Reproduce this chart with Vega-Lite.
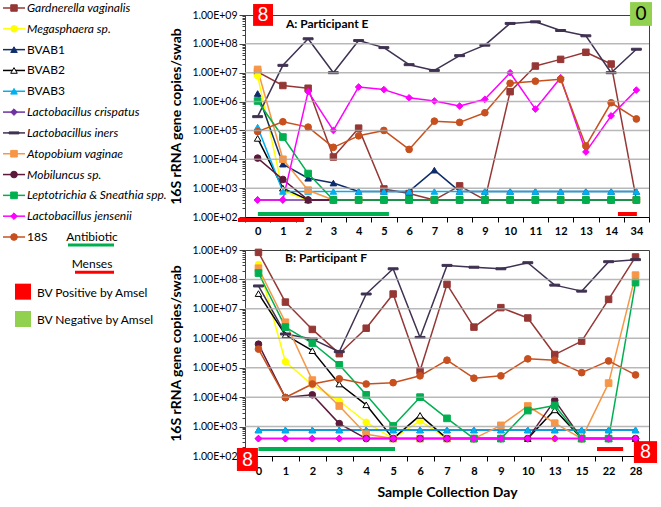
{
  "$schema": "https://vega.github.io/schema/vega-lite/v6.json",
  "background": "white",
  "padding": {"left": 0, "top": 1, "right": 0, "bottom": 0},
  "config": {
    "font": "Lato",
    "view": {"stroke": null},
    "axis": {"labelFont": "Lato", "titleFont": "Lato", "labelColor": "#000000", "titleColor": "#000000"},
    "text": {"font": "Lato"}
  },
  "datasets": {
    "gridA": [{"v": 1000, "u1": -0.5, "u2": 15.5}, {"v": 10000, "u1": -0.5, "u2": 15.5}, {"v": 100000, "u1": -0.5, "u2": 15.5}, {"v": 1000000, "u1": -0.5, "u2": 15.5}, {"v": 10000000, "u1": -0.5, "u2": 15.5}, {"v": 100000000, "u1": -0.5, "u2": 15.5}],
    "gridB": [{"v": 1000, "u1": -0.5, "u2": 14.5}, {"v": 10000, "u1": -0.5, "u2": 14.5}, {"v": 100000, "u1": -0.5, "u2": 14.5}, {"v": 1000000, "u1": -0.5, "u2": 14.5}, {"v": 10000000, "u1": -0.5, "u2": 14.5}, {"v": 100000000, "u1": -0.5, "u2": 14.5}],
    "legend": [
      {"s": "Gvag", "label": "Gardnerella vaginalis"},
      {"s": "Mega", "label": "Megasphaera sp."},
      {"s": "BVAB1", "label": "BVAB1"},
      {"s": "BVAB2", "label": "BVAB2"},
      {"s": "BVAB3", "label": "BVAB3"},
      {"s": "Lcri", "label": "Lactobacillus crispatus"},
      {"s": "Liners", "label": "Lactobacillus iners"},
      {"s": "Avag", "label": "Atopobium vaginae"},
      {"s": "Mobi", "label": "Mobiluncus sp."},
      {"s": "Lept", "label": "Leptotrichia & Sneathia spp."},
      {"s": "Ljen", "label": "Lactobacillus jensenii"},
      {"s": "18S", "label": "18S"}
    ],
    "legendExtra": [
      {"k": "Antibiotic"},
      {"k": "Menses"},
      {"k": "BV Positive by Amsel"},
      {"k": "BV Negative by Amsel"}
    ],
    "A": [
      {"day": "0", "Gvag": 1.07e7, "Mega": 7.8e6, "BVAB1": 1.9e6, "BVAB2": 5.3e4, "BVAB3": 1.3e5, "Lcri": 390, "Liners": 3e5, "Avag": 1.3e7, "Mobi": 1.1e4, "Lept": 1.05e6, "Ljen": 390, "18S": 9.1e4},
      {"day": "1", "Gvag": 3.6e6, "Mega": 800, "BVAB1": 6.8e3, "BVAB2": 1000, "BVAB3": 770, "Lcri": 390, "Liners": 1.8e7, "Avag": 1e4, "Mobi": 2e3, "Lept": 5.9e4, "Ljen": 390, "18S": 2e5},
      {"day": "2", "Gvag": 2.9e6, "Mega": 390, "BVAB1": 2.2e3, "BVAB2": 390, "BVAB3": 770, "Lcri": 390, "Liners": 1.5e8, "Avag": 850, "Mobi": 390, "Lept": 3.2e3, "Ljen": 2.2e6, "18S": 1.3e5},
      {"day": "3", "Gvag": 1.2e4, "Mega": 390, "BVAB1": 1.5e3, "BVAB2": 390, "BVAB3": 770, "Lcri": 390, "Liners": 1e7, "Avag": 390, "Mobi": 390, "Lept": 390, "Ljen": 1e5, "18S": 2.6e4},
      {"day": "4", "Gvag": 1.2e5, "Mega": 390, "BVAB1": 770, "BVAB2": 390, "BVAB3": 770, "Lcri": 390, "Liners": 1.3e8, "Avag": 390, "Mobi": 390, "Lept": 390, "Ljen": 3.2e6, "18S": 6.5e4},
      {"day": "5", "Gvag": 940, "Mega": 390, "BVAB1": 770, "BVAB2": 390, "BVAB3": 770, "Lcri": 390, "Liners": 7.4e7, "Avag": 390, "Mobi": 390, "Lept": 390, "Ljen": 2.6e6, "18S": 1e5},
      {"day": "6", "Gvag": 650, "Mega": 390, "BVAB1": 770, "BVAB2": 390, "BVAB3": 770, "Lcri": 390, "Liners": 1.9e7, "Avag": 390, "Mobi": 390, "Lept": 390, "Ljen": 1.35e6, "18S": 2.2e4},
      {"day": "7", "Gvag": 390, "Mega": 390, "BVAB1": 4.2e3, "BVAB2": 390, "BVAB3": 770, "Lcri": 390, "Liners": 1.2e7, "Avag": 390, "Mobi": 390, "Lept": 390, "Ljen": 1.05e6, "18S": 2.1e5},
      {"day": "8", "Gvag": 1.2e3, "Mega": 390, "BVAB1": 770, "BVAB2": 390, "BVAB3": 770, "Lcri": 390, "Liners": 3.9e7, "Avag": 390, "Mobi": 390, "Lept": 390, "Ljen": 7e5, "18S": 1.9e5},
      {"day": "9", "Gvag": 390, "Mega": 390, "BVAB1": 770, "BVAB2": 390, "BVAB3": 770, "Lcri": 390, "Liners": 9e7, "Avag": 390, "Mobi": 390, "Lept": 390, "Ljen": 1.2e6, "18S": 4.1e5},
      {"day": "10", "Gvag": 2.2e6, "Mega": 390, "BVAB1": 770, "BVAB2": 390, "BVAB3": 770, "Lcri": 390, "Liners": 5.1e8, "Avag": 390, "Mobi": 390, "Lept": 390, "Ljen": 1e7, "18S": 4.3e6},
      {"day": "11", "Gvag": 1.7e7, "Mega": 390, "BVAB1": 770, "BVAB2": 390, "BVAB3": 770, "Lcri": 390, "Liners": 5.8e8, "Avag": 390, "Mobi": 390, "Lept": 390, "Ljen": 5.5e5, "18S": 5.1e6},
      {"day": "12", "Gvag": 2.9e7, "Mega": 390, "BVAB1": 770, "BVAB2": 390, "BVAB3": 770, "Lcri": 390, "Liners": 2.9e8, "Avag": 390, "Mobi": 390, "Lept": 390, "Ljen": 6.7e6, "18S": 5.9e6},
      {"day": "13", "Gvag": 5.1e7, "Mega": 390, "BVAB1": 770, "BVAB2": 390, "BVAB3": 770, "Lcri": 390, "Liners": 1.9e8, "Avag": 390, "Mobi": 390, "Lept": 390, "Ljen": 1.8e4, "18S": 2.9e4},
      {"day": "14", "Gvag": 2e7, "Mega": 390, "BVAB1": 770, "BVAB2": 390, "BVAB3": 770, "Lcri": 390, "Liners": 1e7, "Avag": 390, "Mobi": 390, "Lept": 390, "Ljen": 3.2e5, "18S": 9.1e5},
      {"day": "34", "Gvag": 390, "Mega": 390, "BVAB1": 770, "BVAB2": 390, "BVAB3": 770, "Lcri": 390, "Liners": 6.5e7, "Avag": 390, "Mobi": 390, "Lept": 390, "Ljen": 2.5e6, "18S": 2.5e5}
    ],
    "B": [
      {"day": "0", "Gvag": 8.3e8, "Mega": 3.2e8, "BVAB1": 770, "BVAB2": 3.3e7, "BVAB3": 770, "Lcri": 390, "Liners": 6e7, "Avag": 2.4e8, "Mobi": 6.3e5, "Lept": 1.65e8, "Ljen": 390, "18S": 4.3e5},
      {"day": "1", "Gvag": 1.7e7, "Mega": 1.6e5, "BVAB1": 770, "BVAB2": 1.3e6, "BVAB3": 770, "Lcri": 390, "Liners": 1.4e6, "Avag": 3.5e6, "Mobi": 9.7e3, "Lept": 2.4e6, "Ljen": 390, "18S": 9.7e3},
      {"day": "2", "Gvag": 2e6, "Mega": 2.6e4, "BVAB1": 770, "BVAB2": 3.8e5, "BVAB3": 770, "Lcri": 390, "Liners": 9.4e5, "Avag": 3.8e4, "Mobi": 1.2e4, "Lept": 6.9e5, "Ljen": 390, "18S": 2.8e4},
      {"day": "3", "Gvag": 3e5, "Mega": 7.4e3, "BVAB1": 770, "BVAB2": 2.8e4, "BVAB3": 770, "Lcri": 390, "Liners": 3.5e5, "Avag": 5e3, "Mobi": 1.26e3, "Lept": 1.25e5, "Ljen": 390, "18S": 4.2e4},
      {"day": "4", "Gvag": 2.2e6, "Mega": 1.4e3, "BVAB1": 770, "BVAB2": 5.5e3, "BVAB3": 770, "Lcri": 390, "Liners": 3.2e7, "Avag": 550, "Mobi": 390, "Lept": 1.2e4, "Ljen": 390, "18S": 2.8e4},
      {"day": "5", "Gvag": 3.2e7, "Mega": 390, "BVAB1": 770, "BVAB2": 390, "BVAB3": 770, "Lcri": 390, "Liners": 2.3e8, "Avag": 390, "Mobi": 390, "Lept": 1.05e3, "Ljen": 390, "18S": 3.1e4},
      {"day": "6", "Gvag": 7.9e4, "Mega": 1.55e3, "BVAB1": 770, "BVAB2": 2.4e3, "BVAB3": 770, "Lcri": 390, "Liners": 1.07e6, "Avag": 390, "Mobi": 390, "Lept": 1e4, "Ljen": 390, "18S": 5.3e4},
      {"day": "7", "Gvag": 6.8e7, "Mega": 390, "BVAB1": 770, "BVAB2": 390, "BVAB3": 770, "Lcri": 390, "Liners": 3e8, "Avag": 390, "Mobi": 390, "Lept": 1.9e3, "Ljen": 390, "18S": 1.8e5},
      {"day": "8", "Gvag": 2.4e6, "Mega": 390, "BVAB1": 770, "BVAB2": 390, "BVAB3": 770, "Lcri": 390, "Liners": 2.6e8, "Avag": 390, "Mobi": 390, "Lept": 390, "Ljen": 390, "18S": 4.4e4},
      {"day": "9", "Gvag": 1.1e7, "Mega": 390, "BVAB1": 770, "BVAB2": 390, "BVAB3": 770, "Lcri": 390, "Liners": 2.3e8, "Avag": 1.1e3, "Mobi": 390, "Lept": 390, "Ljen": 390, "18S": 5.3e4},
      {"day": "10", "Gvag": 4.9e6, "Mega": 390, "BVAB1": 770, "BVAB2": 390, "BVAB3": 770, "Lcri": 390, "Liners": 3.7e8, "Avag": 5e3, "Mobi": 390, "Lept": 3.5e3, "Ljen": 390, "18S": 2e5},
      {"day": "13", "Gvag": 2.8e5, "Mega": 390, "BVAB1": 770, "BVAB2": 3.7e3, "BVAB3": 770, "Lcri": 390, "Liners": 6.4e7, "Avag": 1.3e3, "Mobi": 7.8e3, "Lept": 5.2e3, "Ljen": 390, "18S": 1.8e5},
      {"day": "15", "Gvag": 8e5, "Mega": 390, "BVAB1": 770, "BVAB2": 390, "BVAB3": 770, "Lcri": 390, "Liners": 4e7, "Avag": 390, "Mobi": 390, "Lept": 390, "Ljen": 390, "18S": 6.8e4},
      {"day": "22", "Gvag": 2.1e7, "Mega": 390, "BVAB1": 770, "BVAB2": 390, "BVAB3": 770, "Lcri": 390, "Liners": 4e8, "Avag": 3e4, "Mobi": 390, "Lept": 390, "Ljen": 390, "18S": 1.7e5},
      {"day": "28", "Gvag": 5.8e8, "Mega": 390, "BVAB1": 770, "BVAB2": 390, "BVAB3": 770, "Lcri": 390, "Liners": 4.7e8, "Avag": 1.4e8, "Mobi": 390, "Lept": 7.8e7, "Ljen": 390, "18S": 5.7e4}
    ],
    "boxA": [
      {"k": "pos", "u1": -0.18, "u2": 0.61, "v1": 2.4e9, "v2": 4.2e8, "u": 0.215, "v": 1.0e9, "t": "8"},
      {"k": "neg", "u1": 14.75, "u2": 15.62, "v1": 2.8e9, "v2": 4.2e8, "u": 15.185, "v": 1.08e9, "t": "0"}
    ],
    "barA": [
      {"k": "Antibiotic", "u1": 0.01, "u2": 5.2, "v": 127},
      {"k": "Menses", "u1": -0.78, "u2": 1.84, "v": 79},
      {"k": "Menses", "u1": 14.27, "u2": 15.02, "v": 127}
    ],
    "titleA": [{"u": 1.12, "v": 4.9e8, "t": "A: Participant E"}],
    "boxB": [
      {"k": "pos", "u1": -0.8, "u2": -0.02, "v1": 187, "v2": 31, "u": -0.41, "v": 76, "t": "8"},
      {"k": "pos", "u1": 13.94, "u2": 14.8, "v1": 320, "v2": 58, "u": 14.37, "v": 137, "t": "8"}
    ],
    "barB": [
      {"k": "Antibiotic", "u1": 0, "u2": 5.07, "v": 173},
      {"k": "Menses", "u1": 12.57, "u2": 13.54, "v": 173}
    ],
    "titleB": [{"u": 0.985, "v": 5.2e8, "t": "B: Participant F"}]
  },
  "spacing": 45,
  "bounds": "flush",
  "hconcat": [
    {
      "width": 200,
      "height": 300,
      "layer": [
        {
          "data": {"name": "legend"},
          "mark": {"type": "rule"},
          "encoding": {
            "x": {"datum": 3, "type": "quantitative", "scale": {"domain": [0, 200], "nice": false, "zero": false}, "axis": null},
            "x2": {"datum": 25},
            "y": {"field": "s", "type": "nominal", "scale": {"type": "point", "domain": ["Gvag","Mega","BVAB1","BVAB2","BVAB3","Lcri","Liners","Avag","Mobi","Lept","Ljen","18S"], "range": [-7, 222], "padding": 0}, "axis": null},
            "stroke": {"field": "s", "type": "nominal", "scale": {"domain": ["Gvag","Mega","BVAB1","BVAB2","BVAB3","Lcri","Liners","Avag","Mobi","Lept","Ljen","18S"], "range": ["#953735","#ffff00","#0f2d6b","#000000","#00b0f0","#7030a0","#3f3151","#f79646","#5c1a3b","#00b050","#ff00ff","#c8501e"]}, "legend": null},
            "strokeWidth": {"field": "s", "type": "nominal", "scale": {"domain": ["Gvag","Mega","BVAB1","BVAB2","BVAB3","Lcri","Liners","Avag","Mobi","Lept","Ljen","18S"], "range": [1.5,1.5,1.5,1.5,1.5,1.5,3.5,1.5,1.5,1.5,1.5,1.5]}, "legend": null}
          }
        },
        {
          "data": {"name": "legend"},
          "mark": {"type": "point", "filled": true, "opacity": 1, "strokeWidth": 1},
          "encoding": {
            "x": {"datum": 14, "type": "quantitative", "scale": {"domain": [0, 200], "nice": false, "zero": false}, "axis": null},
            "y": {"field": "s", "type": "nominal", "scale": {"type": "point", "domain": ["Gvag","Mega","BVAB1","BVAB2","BVAB3","Lcri","Liners","Avag","Mobi","Lept","Ljen","18S"], "range": [-7, 222], "padding": 0}, "axis": null},
            "shape": {"field": "s", "type": "nominal", "scale": {"domain": ["Gvag","Mega","BVAB1","BVAB2","BVAB3","Lcri","Liners","Avag","Mobi","Lept","Ljen","18S"], "range": ["square","circle","triangle-up","triangle-up","triangle-up","diamond","M-1.5,-0.3H1.5V0.3H-1.5Z","square","circle","square","diamond","circle"]}, "legend": null},
            "fill": {"field": "s", "type": "nominal", "scale": {"domain": ["Gvag","Mega","BVAB1","BVAB2","BVAB3","Lcri","Liners","Avag","Mobi","Lept","Ljen","18S"], "range": ["#953735","#ffff00","#0f2d6b","#ffffff","#00b0f0","#7030a0","#3f3151","#f79646","#5c1a3b","#00b050","#ff00ff","#c8501e"]}, "legend": null},
            "stroke": {"field": "s", "type": "nominal", "legend": null},
            "size": {"field": "s", "type": "nominal", "scale": {"domain": ["Gvag","Mega","BVAB1","BVAB2","BVAB3","Lcri","Liners","Avag","Mobi","Lept","Ljen","18S"], "range": [42,45,55,55,55,70,45,42,45,42,70,45]}, "legend": null}
          }
        },
        {
          "data": {"name": "legend"},
          "transform": [{"filter": {"field": "s", "oneOf": ["BVAB1", "BVAB2", "BVAB3", "18S"]}}],
          "mark": {"type": "text", "align": "left", "baseline": "middle", "fontSize": 12, "color": "#000000"},
          "encoding": {
            "x": {"datum": 27, "type": "quantitative", "scale": {"domain": [0, 200], "nice": false, "zero": false}, "axis": null},
            "y": {"field": "s", "type": "nominal", "scale": {"type": "point", "domain": ["Gvag","Mega","BVAB1","BVAB2","BVAB3","Lcri","Liners","Avag","Mobi","Lept","Ljen","18S"], "range": [-7, 222], "padding": 0}, "axis": null},
            "text": {"field": "label"}
          }
        },
        {
          "data": {"name": "legend"},
          "transform": [{"filter": {"not": {"field": "s", "oneOf": ["BVAB1", "BVAB2", "BVAB3", "18S"]}}}],
          "mark": {"type": "text", "align": "left", "baseline": "middle", "fontSize": 12, "fontStyle": "italic", "color": "#000000"},
          "encoding": {
            "x": {"datum": 27, "type": "quantitative", "scale": {"domain": [0, 200], "nice": false, "zero": false}, "axis": null},
            "y": {"field": "s", "type": "nominal", "scale": {"type": "point", "domain": ["Gvag","Mega","BVAB1","BVAB2","BVAB3","Lcri","Liners","Avag","Mobi","Lept","Ljen","18S"], "range": [-7, 222], "padding": 0}, "axis": null},
            "text": {"field": "label"}
          }
        },
        {
          "data": {"name": "legendExtra"},
          "transform": [{"filter": {"field": "k", "oneOf": ["Antibiotic", "Menses"]}}],
          "mark": {"type": "text", "align": "center", "baseline": "middle", "fontSize": 12, "color": "#000000"},
          "encoding": {
            "x": {"datum": 92, "type": "quantitative", "scale": {"domain": [0, 200], "nice": false, "zero": false}, "axis": null},
            "y": {"field": "k", "type": "nominal", "scale": {"type": "point", "domain": ["Antibiotic", "Menses", "BV Positive by Amsel", "BV Negative by Amsel"], "range": [222, 304], "padding": 0}, "axis": null},
            "text": {"field": "k"}
          }
        },
        {
          "data": {"name": "legendExtra"},
          "transform": [{"filter": {"field": "k", "equal": "Antibiotic"}}],
          "mark": {"type": "rule", "color": "#00b050", "strokeWidth": 3, "yOffset": 8},
          "encoding": {
            "x": {"datum": 68, "type": "quantitative", "scale": {"domain": [0, 200], "nice": false, "zero": false}, "axis": null},
            "x2": {"datum": 114},
            "y": {"field": "k", "type": "nominal", "scale": {"type": "point", "domain": ["Antibiotic", "Menses", "BV Positive by Amsel", "BV Negative by Amsel"], "range": [222, 304], "padding": 0}, "axis": null}
          }
        },
        {
          "data": {"name": "legendExtra"},
          "transform": [{"filter": {"field": "k", "equal": "Menses"}}],
          "mark": {"type": "rule", "color": "#ff0000", "strokeWidth": 3, "yOffset": 8},
          "encoding": {
            "x": {"datum": 75, "type": "quantitative", "scale": {"domain": [0, 200], "nice": false, "zero": false}, "axis": null},
            "x2": {"datum": 114},
            "y": {"field": "k", "type": "nominal", "scale": {"type": "point", "domain": ["Antibiotic", "Menses", "BV Positive by Amsel", "BV Negative by Amsel"], "range": [222, 304], "padding": 0}, "axis": null}
          }
        },
        {
          "data": {"name": "legendExtra"},
          "transform": [{"filter": {"field": "k", "equal": "BV Positive by Amsel"}}],
          "mark": {"type": "point", "shape": "square", "filled": true, "opacity": 1, "size": 256, "color": "#ff0000"},
          "encoding": {
            "x": {"datum": 23, "type": "quantitative", "scale": {"domain": [0, 200], "nice": false, "zero": false}, "axis": null},
            "y": {"field": "k", "type": "nominal", "scale": {"type": "point", "domain": ["Antibiotic", "Menses", "BV Positive by Amsel", "BV Negative by Amsel"], "range": [222, 304], "padding": 0}, "axis": null}
          }
        },
        {
          "data": {"name": "legendExtra"},
          "transform": [{"filter": {"field": "k", "equal": "BV Negative by Amsel"}}],
          "mark": {"type": "point", "shape": "square", "filled": true, "opacity": 1, "size": 256, "color": "#92d050"},
          "encoding": {
            "x": {"datum": 23, "type": "quantitative", "scale": {"domain": [0, 200], "nice": false, "zero": false}, "axis": null},
            "y": {"field": "k", "type": "nominal", "scale": {"type": "point", "domain": ["Antibiotic", "Menses", "BV Positive by Amsel", "BV Negative by Amsel"], "range": [222, 304], "padding": 0}, "axis": null}
          }
        },
        {
          "data": {"name": "legendExtra"},
          "transform": [{"filter": {"field": "k", "oneOf": ["BV Positive by Amsel", "BV Negative by Amsel"]}}],
          "mark": {"type": "text", "align": "left", "baseline": "middle", "fontSize": 12, "color": "#000000", "dy": 1},
          "encoding": {
            "x": {"datum": 37, "type": "quantitative", "scale": {"domain": [0, 200], "nice": false, "zero": false}, "axis": null},
            "y": {"field": "k", "type": "nominal", "scale": {"type": "point", "domain": ["Antibiotic", "Menses", "BV Positive by Amsel", "BV Negative by Amsel"], "range": [222, 304], "padding": 0}, "axis": null},
            "text": {"field": "k"}
          }
        }
      ],
      "resolve": {"scale": {"y": "independent"}}
    },
    {
      "spacing": 33,
      "bounds": "flush",
      "vconcat": [
        {
          "width": 404,
          "height": 202,
          "view": {"stroke": "#404040", "strokeWidth": 1},
          "layer": [
            {
              "data": {"name": "A"},
              "transform": [{"fold": ["Gvag","Mega","BVAB1","BVAB2","BVAB3","Lcri","Liners","Avag","Mobi","Lept","Ljen","18S"], "as": ["s", "v"]}],
              "layer": [
                {
                  "mark": {"type": "line", "strokeJoin": "round"},
                  "encoding": {
                    "x": {"field": "day", "type": "ordinal", "scale": {"type": "band", "domain": ["0","1","2","3","4","5","6","7","8","9","10","11","12","13","14","34"], "paddingInner": 0, "paddingOuter": 0}, "axis": {"title": null, "tickBand": "extent", "labelAngle": 0, "labelFontWeight": "bold", "labelFontSize": 11, "tickSize": 5, "labelPadding": 3, "domainColor": "#000000", "tickColor": "#000000", "grid": false}},
                    "y": {"field": "v", "type": "quantitative", "scale": {"type": "log", "domain": [100, 1000000000], "nice": false}, "axis": {"values": [100,200,300,400,500,600,700,800,900,1000,2000,3000,4000,5000,6000,7000,8000,9000,10000,20000,30000,40000,50000,60000,70000,80000,90000,100000,200000,300000,400000,500000,600000,700000,800000,900000,1000000,2000000,3000000,4000000,5000000,6000000,7000000,8000000,9000000,10000000,20000000,30000000,40000000,50000000,60000000,70000000,80000000,90000000,100000000,200000000,300000000,400000000,500000000,600000000,700000000,800000000,900000000,1000000000], "labelExpr": "abs(log(datum.value)/LN10 - round(log(datum.value)/LN10)) < 0.01 ? '1.00E+0' + round(log(datum.value)/LN10) : ''", "labelOverlap": false, "grid": false, "tickSize": {"condition": {"test": "abs(log(datum.value)/LN10 - round(log(datum.value)/LN10)) < 0.01", "value": 6}, "value": 3}, "tickColor": "#404040", "domainColor": "#404040", "labelFontSize": 10.5, "labelPadding": 2, "title": "16S rRNA gene copies/swab", "titleFontSize": 14, "titleFontWeight": "bold", "titlePadding": 8}},
                    "stroke": {"field": "s", "type": "nominal", "legend": null},
                    "strokeWidth": {"field": "s", "type": "nominal", "legend": null}
                  }
                },
                {
                  "mark": {"type": "point", "filled": true, "opacity": 1, "strokeWidth": 1},
                  "encoding": {
                    "x": {"field": "day", "type": "ordinal"},
                    "y": {"field": "v", "type": "quantitative"},
                    "shape": {"field": "s", "type": "nominal", "legend": null},
                    "fill": {"field": "s", "type": "nominal", "legend": null},
                    "stroke": {"field": "s", "type": "nominal", "legend": null},
                    "size": {"field": "s", "type": "nominal", "legend": null}
                  }
                }
              ]
            },
            {
              "layer": [
                {
                  "data": {"name": "gridA"},
                  "mark": {"type": "rule", "color": "#a6a6a6", "strokeWidth": 1.5, "opacity": 0.8},
                  "encoding": {
                    "x": {"field": "u1", "type": "quantitative", "scale": {"domain": [-0.5, 15.5], "nice": false, "zero": false}, "axis": null},
                    "x2": {"field": "u2"},
                    "y": {"field": "v", "type": "quantitative", "scale": {"type": "log", "domain": [100, 1000000000], "nice": false}}
                  }
                },
                {
                  "data": {"name": "boxA"},
                  "transform": [{"filter": {"field": "k", "equal": "pos"}}],
                  "mark": {"type": "rect", "color": "#ff0000"},
                  "encoding": {
                    "x": {"field": "u1", "type": "quantitative", "axis": null},
                    "x2": {"field": "u2"},
                    "y": {"field": "v1", "type": "quantitative"},
                    "y2": {"field": "v2"}
                  }
                },
                {
                  "data": {"name": "boxA"},
                  "transform": [{"filter": {"field": "k", "equal": "neg"}}],
                  "mark": {"type": "rect", "color": "#92d050"},
                  "encoding": {
                    "x": {"field": "u1", "type": "quantitative", "axis": null},
                    "x2": {"field": "u2"},
                    "y": {"field": "v1", "type": "quantitative"},
                    "y2": {"field": "v2"}
                  }
                },
                {
                  "data": {"name": "boxA"},
                  "transform": [{"filter": {"field": "k", "equal": "pos"}}],
                  "mark": {"type": "text", "color": "#ffffff", "fontSize": 19, "align": "center", "baseline": "middle"},
                  "encoding": {
                    "x": {"field": "u", "type": "quantitative", "axis": null},
                    "y": {"field": "v", "type": "quantitative"},
                    "text": {"field": "t"}
                  }
                },
                {
                  "data": {"name": "boxA"},
                  "transform": [{"filter": {"field": "k", "equal": "neg"}}],
                  "mark": {"type": "text", "color": "#000000", "fontSize": 19, "align": "center", "baseline": "middle"},
                  "encoding": {
                    "x": {"field": "u", "type": "quantitative", "axis": null},
                    "y": {"field": "v", "type": "quantitative"},
                    "text": {"field": "t"}
                  }
                },
                {
                  "data": {"name": "barA"},
                  "transform": [{"filter": {"field": "k", "equal": "Antibiotic"}}],
                  "mark": {"type": "rule", "color": "#00b050", "strokeWidth": 4},
                  "encoding": {
                    "x": {"field": "u1", "type": "quantitative", "axis": null},
                    "x2": {"field": "u2"},
                    "y": {"field": "v", "type": "quantitative"}
                  }
                },
                {
                  "data": {"name": "barA"},
                  "transform": [{"filter": {"field": "k", "equal": "Menses"}}],
                  "mark": {"type": "rule", "color": "#ff0000", "strokeWidth": 4},
                  "encoding": {
                    "x": {"field": "u1", "type": "quantitative", "axis": null},
                    "x2": {"field": "u2"},
                    "y": {"field": "v", "type": "quantitative"}
                  }
                },
                {
                  "data": {"name": "titleA"},
                  "mark": {"type": "text", "align": "left", "baseline": "middle", "fontSize": 12, "fontWeight": "bold", "color": "#000000"},
                  "encoding": {
                    "x": {"field": "u", "type": "quantitative", "axis": null},
                    "y": {"field": "v", "type": "quantitative"},
                    "text": {"field": "t"}
                  }
                }
              ]
            }
          ],
          "resolve": {"scale": {"x": "independent"}}
        },
        {
          "width": 404,
          "height": 206,
          "view": {"stroke": "#404040", "strokeWidth": 1},
          "layer": [
            {
              "data": {"name": "B"},
              "transform": [{"fold": ["Gvag","Mega","BVAB1","BVAB2","BVAB3","Lcri","Liners","Avag","Mobi","Lept","Ljen","18S"], "as": ["s", "v"]}],
              "layer": [
                {
                  "mark": {"type": "line", "strokeJoin": "round"},
                  "encoding": {
                    "x": {"field": "day", "type": "ordinal", "scale": {"type": "band", "domain": ["0","1","2","3","4","5","6","7","8","9","10","13","15","22","28"], "paddingInner": 0, "paddingOuter": 0}, "axis": {"title": "Sample Collection Day", "titleFontSize": 14, "titleFontWeight": "bold", "titlePadding": 9, "tickBand": "extent", "labelAngle": 0, "labelFontWeight": "bold", "labelFontSize": 11, "tickSize": 5, "labelPadding": 4, "domainColor": "#000000", "tickColor": "#000000", "grid": false}},
                    "y": {"field": "v", "type": "quantitative", "scale": {"type": "log", "domain": [100, 1000000000], "nice": false}, "axis": {"values": [100,200,300,400,500,600,700,800,900,1000,2000,3000,4000,5000,6000,7000,8000,9000,10000,20000,30000,40000,50000,60000,70000,80000,90000,100000,200000,300000,400000,500000,600000,700000,800000,900000,1000000,2000000,3000000,4000000,5000000,6000000,7000000,8000000,9000000,10000000,20000000,30000000,40000000,50000000,60000000,70000000,80000000,90000000,100000000,200000000,300000000,400000000,500000000,600000000,700000000,800000000,900000000,1000000000], "labelExpr": "abs(log(datum.value)/LN10 - round(log(datum.value)/LN10)) < 0.01 ? '1.00E+0' + round(log(datum.value)/LN10) : ''", "labelOverlap": false, "grid": false, "tickSize": {"condition": {"test": "abs(log(datum.value)/LN10 - round(log(datum.value)/LN10)) < 0.01", "value": 6}, "value": 3}, "tickColor": "#404040", "domainColor": "#404040", "labelFontSize": 10.5, "labelPadding": 2, "title": "16S rRNA gene copies/swab", "titleFontSize": 14, "titleFontWeight": "bold", "titlePadding": 8}},
                    "stroke": {"field": "s", "type": "nominal", "legend": null},
                    "strokeWidth": {"field": "s", "type": "nominal", "legend": null}
                  }
                },
                {
                  "mark": {"type": "point", "filled": true, "opacity": 1, "strokeWidth": 1},
                  "encoding": {
                    "x": {"field": "day", "type": "ordinal"},
                    "y": {"field": "v", "type": "quantitative"},
                    "shape": {"field": "s", "type": "nominal", "legend": null},
                    "fill": {"field": "s", "type": "nominal", "legend": null},
                    "stroke": {"field": "s", "type": "nominal", "legend": null},
                    "size": {"field": "s", "type": "nominal", "legend": null}
                  }
                }
              ]
            },
            {
              "layer": [
                {
                  "data": {"name": "gridB"},
                  "mark": {"type": "rule", "color": "#a6a6a6", "strokeWidth": 1.5, "opacity": 0.8},
                  "encoding": {
                    "x": {"field": "u1", "type": "quantitative", "scale": {"domain": [-0.5, 14.5], "nice": false, "zero": false}, "axis": null},
                    "x2": {"field": "u2"},
                    "y": {"field": "v", "type": "quantitative", "scale": {"type": "log", "domain": [100, 1000000000], "nice": false}}
                  }
                },
                {
                  "data": {"name": "boxB"},
                  "mark": {"type": "rect", "color": "#ff0000"},
                  "encoding": {
                    "x": {"field": "u1", "type": "quantitative", "axis": null},
                    "x2": {"field": "u2"},
                    "y": {"field": "v1", "type": "quantitative"},
                    "y2": {"field": "v2"}
                  }
                },
                {
                  "data": {"name": "boxB"},
                  "mark": {"type": "text", "color": "#ffffff", "fontSize": 19, "align": "center", "baseline": "middle"},
                  "encoding": {
                    "x": {"field": "u", "type": "quantitative", "axis": null},
                    "y": {"field": "v", "type": "quantitative"},
                    "text": {"field": "t"}
                  }
                },
                {
                  "data": {"name": "barB"},
                  "transform": [{"filter": {"field": "k", "equal": "Antibiotic"}}],
                  "mark": {"type": "rule", "color": "#00b050", "strokeWidth": 4},
                  "encoding": {
                    "x": {"field": "u1", "type": "quantitative", "axis": null},
                    "x2": {"field": "u2"},
                    "y": {"field": "v", "type": "quantitative"}
                  }
                },
                {
                  "data": {"name": "barB"},
                  "transform": [{"filter": {"field": "k", "equal": "Menses"}}],
                  "mark": {"type": "rule", "color": "#ff0000", "strokeWidth": 4},
                  "encoding": {
                    "x": {"field": "u1", "type": "quantitative", "axis": null},
                    "x2": {"field": "u2"},
                    "y": {"field": "v", "type": "quantitative"}
                  }
                },
                {
                  "data": {"name": "titleB"},
                  "mark": {"type": "text", "align": "left", "baseline": "middle", "fontSize": 12, "fontWeight": "bold", "color": "#000000"},
                  "encoding": {
                    "x": {"field": "u", "type": "quantitative", "axis": null},
                    "y": {"field": "v", "type": "quantitative"},
                    "text": {"field": "t"}
                  }
                }
              ]
            }
          ],
          "resolve": {"scale": {"x": "independent"}}
        }
      ]
    }
  ]
}
